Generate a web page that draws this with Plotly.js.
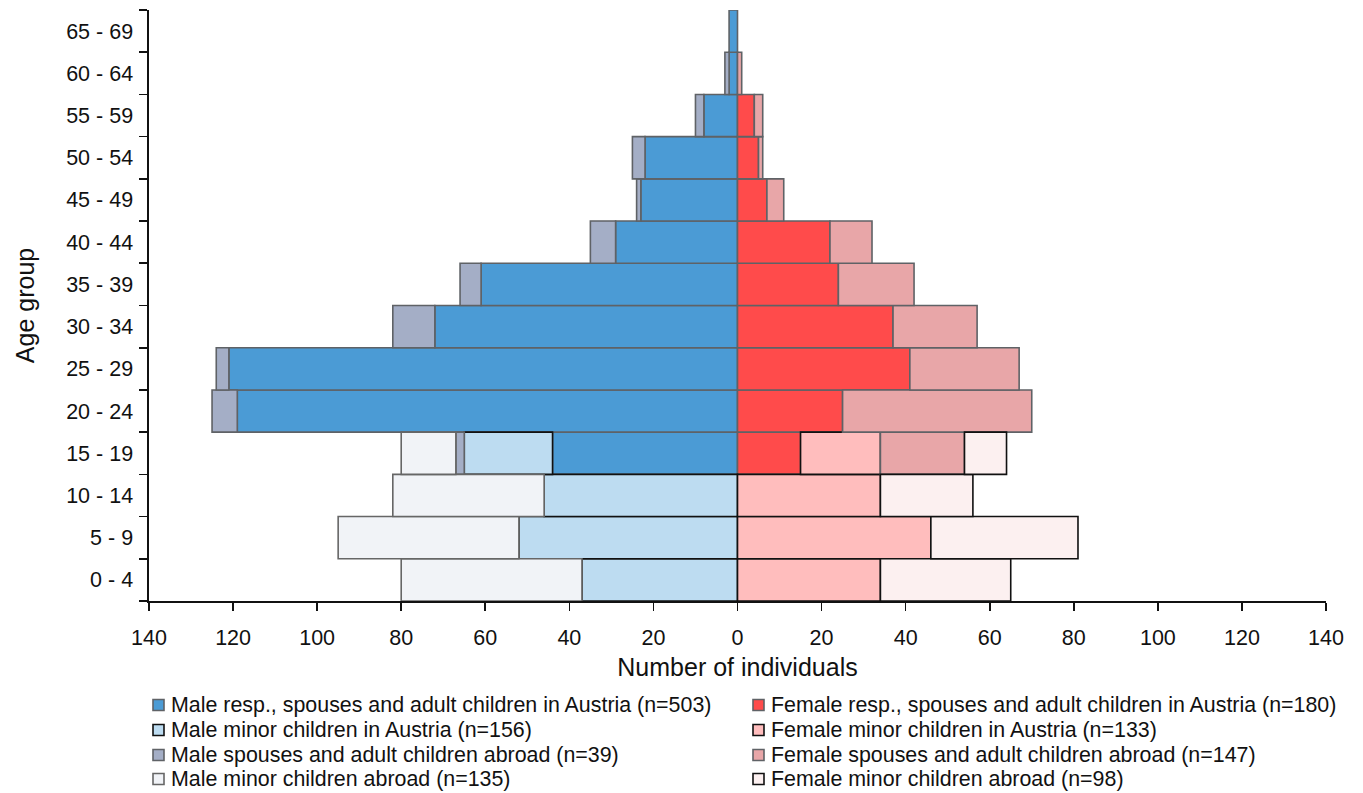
<!DOCTYPE html>
<html>
<head>
<meta charset="utf-8">
<script src="https://cdn.plot.ly/plotly-3.0.1.min.js"></script>
<style>html,body{margin:0;padding:0;background:#fff;}#chart{width:1363px;height:793px;}</style>
</head>
<body>
<div id="chart"></div>
<script>
// Age groups, bottom to top
const ageGroups = ['0 - 4','5 - 9','10 - 14','15 - 19','20 - 24','25 - 29','30 - 34','35 - 39','40 - 44','45 - 49','50 - 54','55 - 59','60 - 64','65 - 69'];

// Male series (counts)
const maleRespAustria    = [null, null, null, 44, 119, 121, 72, 61, 29, 23, 22, 8, 2, 2];
const maleMinorAustria   = [37, 52, 46, 21, null, null, null, null, null, null, null, null, null, null];
const maleSpousesAbroad  = [null, null, null, 2, 6, 3, 10, 5, 6, 1, 3, 2, 1, null];
const maleMinorAbroad    = [43, 43, 36, 13, null, null, null, null, null, null, null, null, null, null];

// Female series (counts)
const femaleRespAustria   = [null, null, null, 15, 25, 41, 37, 24, 22, 7, 5, 4, null, null];
const femaleMinorAustria  = [34, 46, 34, 19, null, null, null, null, null, null, null, null, null, null];
const femaleSpousesAbroad = [null, null, null, 20, 45, 26, 20, 18, 10, 4, 1, 2, 1, null];
const femaleMinorAbroad   = [31, 35, 22, 10, null, null, null, null, null, null, null, null, null, null];

// Legend labels (left column = male, right column = female)
const maleNames = [
  'Male resp., spouses and adult children in Austria (n=503)',
  'Male minor children in Austria (n=156)',
  'Male spouses and adult children abroad (n=39)',
  'Male minor children abroad (n=135)'
];
const femaleNames = [
  'Female resp., spouses and adult children in Austria (n=180)',
  'Female minor children in Austria (n=133)',
  'Female spouses and adult children abroad (n=147)',
  'Female minor children abroad (n=98)'
];

const xTickVals = [-140,-120,-100,-80,-60,-40,-20,0,20,40,60,80,100,120,140];
const xTickText = xTickVals.map(v => String(Math.abs(v)));

// Styles
const maleFill   = ['#4B9BD5', '#BDDCF1', '#A4AEC6', '#F1F3F7'];
const maleLine   = ['#5f6266', '#111111', '#5f6266', '#666666'];
const femaleFill = ['#FF4B4B', '#FFBDBD', '#E8A6A8', '#FCF0F0'];
const femaleLine = ['#5f6266', '#111111', '#5f6266', '#111111'];

const maleData   = [maleRespAustria, maleMinorAustria, maleSpousesAbroad, maleMinorAbroad];
const femaleData = [femaleRespAustria, femaleMinorAustria, femaleSpousesAbroad, femaleMinorAbroad];

const neg = arr => arr.map(v => v == null ? null : -v);

function bar(name, vals, fill, line) {
  return {
    type: 'bar', orientation: 'h', name: name,
    y: ageGroups, x: vals,
    marker: {color: fill, line: {color: line, width: 1.6}},
    hoverinfo: 'skip', showlegend: false
  };
}

const traces = [];
for (let i = 0; i < 4; i++) {
  traces.push(bar(maleNames[i], neg(maleData[i]), maleFill[i], maleLine[i]));
  traces.push(bar(femaleNames[i], femaleData[i], femaleFill[i], femaleLine[i]));
}

const font = 'Liberation Sans, Arial, sans-serif';

// Plot area in pixels (fixed margins)
const W = 1363, H = 793, L = 149, R = 37, T = 10, B = 192;
const pw = W - L - R, ph = H - T - B;
const px = x => (x - L) / pw;
const py = y => (H - B - y) / ph;

// Custom two-column legend
const legendRowsY = [705, 730, 755, 779];
const legendCols = [{sw: 153, tx: 169, names: maleNames, fill: maleFill, line: maleLine},
                    {sw: 753, tx: 769, names: femaleNames, fill: femaleFill, line: femaleLine}];
const shapes = [], annotations = [];
legendCols.forEach(col => {
  col.names.forEach((nm, i) => {
    const cy = legendRowsY[i];
    shapes.push({type: 'rect', xref: 'paper', yref: 'paper',
      x0: px(col.sw), x1: px(col.sw + 11), y0: py(cy + 5.5), y1: py(cy - 5.5),
      fillcolor: col.fill[i], line: {color: col.line[i], width: 1.6}});
    annotations.push({xref: 'paper', yref: 'paper', x: px(col.tx), y: py(cy),
      xanchor: 'left', yanchor: 'middle', showarrow: false, text: nm,
      font: {family: font, size: 21.4, color: '#111'}});
  });
});

const layout = {
  width: W, height: H,
  margin: {l: L, r: R, t: T, b: B, autoexpand: false},
  paper_bgcolor: '#fff', plot_bgcolor: '#fff',
  barmode: 'relative', bargap: 0,
  showlegend: false,
  font: {family: font, size: 21, color: '#111'},
  xaxis: {
    range: [-140, 140],
    tickvals: xTickVals, ticktext: xTickText,
    showgrid: false, zeroline: false,
    showline: true, linecolor: '#111', linewidth: 1.6,
    ticks: 'outside', ticklen: 8, tickwidth: 1.6, tickcolor: '#111',
    ticklabelstandoff: 9,
    tickfont: {family: font, size: 21.5, color: '#111'},
    title: {text: 'Number of individuals', font: {family: font, size: 25, color: '#111'}, standoff: 9},
    fixedrange: true
  },
  yaxis: {
    type: 'category',
    categoryorder: 'array', categoryarray: ageGroups,
    showgrid: false, zeroline: false,
    showline: true, linecolor: '#111', linewidth: 1.6,
    ticks: 'outside', ticklen: 8, tickwidth: 1.6, tickcolor: '#111',
    tickson: 'boundaries',
    ticklabelstandoff: 10,
    tickfont: {family: font, size: 21.5, color: '#111'},
    title: {text: 'Age group', font: {family: font, size: 25, color: '#111'}, standoff: 24},
    fixedrange: true
  },
  shapes: shapes,
  annotations: annotations
};

Plotly.newPlot('chart', traces, layout, {displayModeBar: false, staticPlot: true});
</script>
</body>
</html>
